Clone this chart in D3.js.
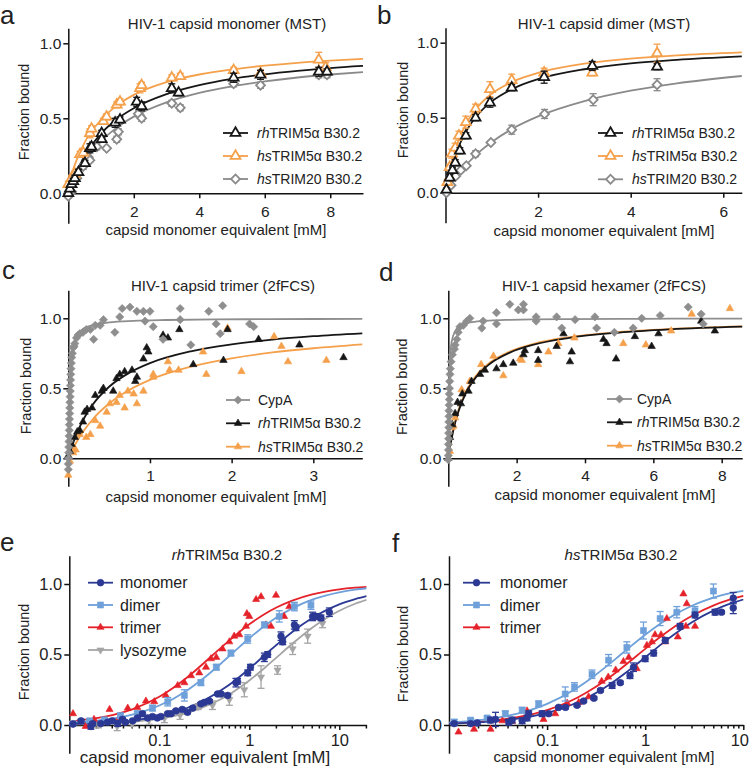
<!DOCTYPE html>
<html><head><meta charset="utf-8">
<script src="https://cdn.jsdelivr.net/npm/d3@7"></script>
<style>
body{margin:0;background:#fff}
svg{display:block}
</style>
</head><body>
<svg id="chart" width="750" height="770"></svg>
<script>
// ---------------- DATA ----------------
// Panel a: HIV-1 capsid monomer (MST)
const aRhX  = [0, 0.05, 0.1, 0.15, 0.2, 0.31, 0.51, 0.66, 0.71, 1.02, 1.02, 1.43, 1.58, 2.09, 2.24, 3.16, 3.37, 5.05, 5.87, 7.65, 7.9];
const aRhY  = [0.0, 0.03, 0.06, 0.08, 0.10, 0.14, 0.20, 0.30, 0.31, 0.40, 0.36, 0.47, 0.49, 0.61, 0.58, 0.70, 0.67, 0.77, 0.79, 0.81, 0.81];
const aRhE  = [0.01, 0.02, 0.02, 0.02, 0.02, 0.02, 0.02, 0.03, 0.02, 0.02, 0.02, 0.03, 0.02, 0.03, 0.03, 0.03, 0.02, 0.03, 0.03, 0.03, 0.02];
const aHsX  = [0, 0.1, 0.2, 0.36, 0.46, 0.66, 0.71, 1.07, 1.17, 1.48, 1.58, 2.19, 2.24, 3.16, 3.42, 5.05, 5.87, 7.65, 7.86];
const aHsY  = [0.06, 0.10, 0.13, 0.26, 0.27, 0.40, 0.43, 0.48, 0.51, 0.59, 0.61, 0.70, 0.72, 0.77, 0.78, 0.82, 0.80, 0.89, 0.84];
const aHsE  = [0.02, 0.02, 0.02, 0.02, 0.02, 0.03, 0.02, 0.02, 0.02, 0.02, 0.02, 0.03, 0.02, 0.02, 0.02, 0.02, 0.02, 0.05, 0.03];
const aT20X = [0, 0.1, 0.26, 0.46, 0.61, 0.66, 0.87, 1.17, 1.48, 1.53, 2.14, 2.24, 3.16, 3.42, 5.05, 5.87, 7.65, 7.9];
const aT20Y = [-0.02, 0.01, 0.10, 0.18, 0.24, 0.22, 0.31, 0.30, 0.36, 0.41, 0.53, 0.50, 0.60, 0.57, 0.73, 0.72, 0.79, 0.79];
const aT20E = [0.01, 0.01, 0.01, 0.02, 0.01, 0.01, 0.02, 0.01, 0.02, 0.02, 0.02, 0.02, 0.02, 0.02, 0.02, 0.02, 0.02, 0.02];
const aFitX    = [0, 0.25, 0.5, 1, 1.5, 2, 3, 4, 5, 6, 7, 8, 9];
const aRhFitY  = [0, 0.142, 0.249, 0.398, 0.497, 0.567, 0.661, 0.721, 0.763, 0.793, 0.816, 0.835, 0.849];
const aHsFitY  = [0.06, 0.22, 0.34, 0.49, 0.588, 0.656, 0.741, 0.792, 0.826, 0.851, 0.870, 0.884, 0.896];
const aT20FitY = [0, 0.118, 0.211, 0.346, 0.441, 0.511, 0.606, 0.669, 0.713, 0.746, 0.772, 0.792, 0.808];
const aXTicks = [2, 4, 6, 8];

// Panel b: HIV-1 capsid dimer (MST)
const bRhX  = [0.02, 0.09, 0.15, 0.21, 0.31, 0.44, 0.65, 0.96, 1.43, 2.13, 3.17, 4.57];
const bRhY  = [0.02, 0.10, 0.15, 0.20, 0.28, 0.38, 0.50, 0.60, 0.70, 0.77, 0.845, 0.84];
const bRhE  = [0.01, 0.02, 0.02, 0.02, 0.02, 0.02, 0.02, 0.03, 0.02, 0.04, 0.03, 0.02];
const bHsX  = [0.04, 0.09, 0.14, 0.21, 0.29, 0.44, 0.65, 0.96, 1.43, 2.13, 3.17, 4.57];
const bHsY  = [0.07, 0.17, 0.26, 0.30, 0.38, 0.47, 0.56, 0.69, 0.75, 0.80, 0.80, 0.93];
const bHsE  = [0.02, 0.02, 0.03, 0.03, 0.03, 0.04, 0.03, 0.05, 0.04, 0.03, 0.02, 0.06];
const bT20X = [0.02, 0.12, 0.22, 0.33, 0.45, 0.65, 0.98, 1.43, 2.14, 3.19, 4.57];
const bT20Y = [0.0, 0.05, 0.11, 0.15, 0.18, 0.26, 0.335, 0.42, 0.525, 0.62, 0.72];
const bT20E = [0.01, 0.01, 0.01, 0.01, 0.01, 0.02, 0.01, 0.03, 0.03, 0.04, 0.04];
const bFitX    = [0, 0.1, 0.25, 0.5, 0.75, 1, 1.5, 2, 3, 4, 5, 6.4];
const bRhFitY  = [0, 0.135, 0.280, 0.437, 0.538, 0.609, 0.700, 0.757, 0.823, 0.862, 0.886, 0.909];
const bHsFitY  = [0, 0.159, 0.322, 0.489, 0.591, 0.660, 0.747, 0.799, 0.860, 0.894, 0.916, 0.936];
const bT20FitY = [0, 0.048, 0.112, 0.203, 0.277, 0.338, 0.436, 0.509, 0.611, 0.680, 0.729, 0.778];
const bXTicks = [2, 4, 6];

// Panel c: HIV-1 capsid trimer (2fFCS)
const cCypX = [0, 0, 0.003, 0.005, 0.006, 0.008, 0.01, 0.012, 0.013, 0.015, 0.017, 0.018, 0.02, 0.022, 0.024, 0.026, 0.028, 0.03, 0.033, 0.037, 0.042, 0.05, 0.06, 0.07,
  0.08, 0.10, 0.12, 0.14, 0.18, 0.22, 0.27, 0.31, 0.33, 0.39, 0.43, 0.57, 0.63, 0.66, 0.755, 0.84, 0.92, 0.94, 1.0, 1.04, 1.16, 1.37, 1.37, 1.50, 1.72, 1.81, 1.86, 1.89, 2.22, 2.27];
const cCypY = [-0.08, -0.04, 0.0, 0.04, 0.08, 0.12, 0.16, 0.20, 0.24, 0.28, 0.32, 0.36, 0.40, 0.44, 0.48, 0.52, 0.56, 0.60, 0.64, 0.68, 0.72, 0.75, 0.79, 0.80,
  0.82, 0.86, 0.88, 0.89, 0.90, 0.92, 0.92, 0.85, 0.95, 0.95, 0.99, 0.90, 1.01, 1.07, 1.08, 1.05, 1.05, 0.98, 1.05, 0.94, 0.85, 0.99, 1.07, 0.81, 1.05, 0.96, 0.89, 1.09, 0.96, 0.94];
const cRhX = [0, 0.02, 0.04, 0.08, 0.11, 0.14, 0.18, 0.20, 0.23, 0.29, 0.33, 0.41, 0.43, 0.55, 0.59, 0.63, 0.69, 0.78, 0.82, 0.84, 0.92, 0.96, 0.98, 1.16, 1.22, 1.36, 1.53, 1.90, 1.95, 2.33, 2.83, 3.37];
const cRhY = [0.02, 0.05, 0.10, 0.15, 0.19, 0.20, 0.26, 0.33, 0.35, 0.36, 0.45, 0.48, 0.50, 0.48, 0.57, 0.60, 0.62, 0.63, 0.55, 0.58, 0.71, 0.79, 0.76, 0.88, 0.86, 0.92, 0.67, 0.70, 0.92, 0.85, 0.81, 0.72];
const cHsX = [0, 0.02, 0.06, 0.09, 0.14, 0.22, 0.27, 0.33, 0.39, 0.47, 0.51, 0.59, 0.63, 0.69, 0.73, 0.80, 0.84, 0.92, 1.04, 1.04, 1.22, 1.24, 1.35, 1.65, 1.69, 1.95, 2.12, 2.52, 2.61, 2.69, 3.16];
const cHsY = [-0.12, -0.02, 0.04, 0.06, 0.17, 0.15, 0.17, 0.27, 0.23, 0.33, 0.39, 0.40, 0.45, 0.36, 0.48, 0.46, 0.39, 0.48, 0.60, 0.58, 0.69, 0.63, 0.63, 0.76, 0.60, 0.93, 0.62, 0.87, 0.80, 0.69, 0.70];
const cCypFitX = [0, 0.005, 0.01, 0.02, 0.03, 0.05, 0.08, 0.12, 0.2, 0.3, 0.5, 0.8, 1.2, 1.8, 2.5, 3.6];
const cCypFitY = [0, 0.25, 0.40, 0.571, 0.667, 0.769, 0.842, 0.889, 0.930, 0.952, 0.971, 0.982, 0.988, 0.992, 0.994, 0.996];
const cFitX    = [0, 0.05, 0.1, 0.2, 0.3, 0.5, 0.75, 1, 1.5, 2, 2.5, 3, 3.6];
const cRhFitY  = [0, 0.093, 0.171, 0.293, 0.384, 0.511, 0.612, 0.680, 0.764, 0.814, 0.848, 0.872, 0.893];
const cHsFitY  = [0, 0.061, 0.115, 0.205, 0.279, 0.391, 0.489, 0.560, 0.654, 0.714, 0.756, 0.786, 0.814];
const cXTicks = [1, 2, 3];

// Panel d: HIV-1 capsid hexamer (2fFCS)
const dCypX = [0, 0, 0.005, 0.005, 0.01, 0.01, 0.015, 0.015, 0.02, 0.02, 0.025, 0.03, 0.03, 0.035, 0.04, 0.05, 0.06, 0.08, 0.12, 0.18, 0.2, 0.25, 0.29, 0.34, 0.44, 0.54, 0.63,
  0.98, 1.02, 1.41, 1.41, 1.80, 2.05, 2.20, 2.20, 2.57, 2.57, 3.17, 3.32, 3.71, 4.29, 4.34, 4.86, 5.41, 5.66, 6.2, 7.02, 7.4, 7.46];
const dCypY = [-0.01, 0.02, 0.06, 0.10, 0.14, 0.18, 0.22, 0.26, 0.30, 0.34, 0.38, 0.42, 0.46, 0.50, 0.55, 0.60, 0.64, 0.69, 0.74, 0.78, 0.81, 0.85, 0.90, 0.94, 0.95, 0.98, 1.0,
  0.93, 0.98, 1.04, 0.96, 1.10, 1.06, 1.10, 1.06, 1.01, 0.98, 1.01, 0.93, 0.99, 1.01, 0.93, 0.90, 0.93, 1.00, 1.02, 1.08, 1.03, 0.96];
const dRhX = [0, 0.05, 0.12, 0.2, 0.27, 0.37, 0.41, 0.59, 0.68, 0.93, 1.07, 1.41, 1.61, 1.90, 2.20, 2.24, 2.63, 2.63, 3.17, 3.37, 3.56, 3.61, 4.54, 4.63, 4.91, 5.46, 5.95, 6.15, 7.4, 7.8];
const dRhY = [0, 0.15, 0.24, 0.32, 0.40, 0.39, 0.46, 0.48, 0.55, 0.60, 0.63, 0.64, 0.67, 0.68, 0.74, 0.77, 0.77, 0.70, 0.80, 0.89, 0.69, 0.76, 0.85, 0.82, 0.71, 0.87, 0.80, 0.89, 0.98, 0.91];
const dHsX = [0.05, 0.1, 0.15, 0.2, 0.39, 0.63, 0.96, 1.32, 1.61, 2.10, 2.15, 2.63, 2.93, 3.22, 3.69, 5.12, 5.78, 6.52, 7.12, 8.24];
const dHsY = [0.05, 0.22, 0.23, 0.29, 0.49, 0.55, 0.67, 0.73, 0.59, 0.71, 0.70, 0.67, 0.76, 0.82, 0.86, 0.82, 0.81, 0.91, 1.03, 1.07];
const dCypFitX = [0, 0.02, 0.05, 0.1, 0.2, 0.3, 0.5, 0.8, 1.2, 1.8, 2.5, 3.5, 5, 6.5, 8.6];
const dCypFitY = [0, 0.5, 0.714, 0.833, 0.909, 0.938, 0.962, 0.976, 0.984, 0.989, 0.992, 0.994, 0.996, 0.997, 0.998];
const dFitX    = [0, 0.05, 0.1, 0.2, 0.3, 0.5, 0.8, 1.2, 1.8, 2.5, 3.5, 5, 6.5, 8.6];
const dRhFitY  = [0, 0.078, 0.145, 0.253, 0.337, 0.459, 0.576, 0.672, 0.755, 0.812, 0.859, 0.898, 0.921, 0.940];
const dHsFitY  = [0, 0.081, 0.150, 0.261, 0.347, 0.470, 0.587, 0.681, 0.763, 0.818, 0.864, 0.902, 0.924, 0.943];
const dXTicks = [2, 4, 6, 8];

// Panel e: rhTRIM5α B30.2 (log axis)
const eMonoX = [0.011, 0.0135, 0.0174, 0.0182, 0.0224, 0.0267, 0.030, 0.0345, 0.039, 0.042, 0.0506, 0.0574, 0.065, 0.074, 0.084, 0.095, 0.104, 0.124, 0.135, 0.153, 0.18, 0.206, 0.235, 0.29, 0.316, 0.36, 0.445, 0.485, 0.575, 0.71, 0.74, 0.96, 1.03, 1.47, 1.6, 2.25, 2.35, 3.17, 3.3, 5.05, 5.5, 6.26, 7.75];
const eMonoY = [0.007, 0.03, -0.01, 0.01, 0.01, 0.02, 0.03, 0.01, 0.04, 0.02, 0.03, 0.05, 0.08, 0.05, 0.06, 0.05, 0.06, 0.08, 0.08, 0.10, 0.11, 0.09, 0.12, 0.15, 0.16, 0.17, 0.22, 0.22, 0.21, 0.30, 0.31, 0.37, 0.41, 0.48, 0.50, 0.63, 0.59, 0.71, 0.69, 0.77, 0.77, 0.76, 0.80];
const eMonoE = [0.01, 0.01, 0.02, 0.01, 0.01, 0.01, 0.01, 0.02, 0.01, 0.01, 0.01, 0.01, 0.01, 0.01, 0.01, 0.01, 0.01, 0.01, 0.01, 0.01, 0.01, 0.01, 0.01, 0.01, 0.01, 0.01, 0.01, 0.01, 0.01, 0.03, 0.02, 0.02, 0.02, 0.03, 0.02, 0.03, 0.02, 0.03, 0.02, 0.03, 0.02, 0.02, 0.03];
const eDimX = [0.011, 0.0168, 0.0245, 0.037, 0.057, 0.084, 0.124, 0.19, 0.29, 0.43, 0.625, 0.96, 1.47, 2.15, 3.17, 4.84];
const eDimY = [0.01, 0.03, 0.035, 0.065, 0.08, 0.12, 0.165, 0.21, 0.30, 0.41, 0.51, 0.61, 0.71, 0.77, 0.84, 0.85];
const eDimE = [0.01, 0.01, 0.02, 0.02, 0.02, 0.02, 0.03, 0.04, 0.02, 0.02, 0.02, 0.03, 0.02, 0.04, 0.03, 0.03];
const eTriX = [0.011, 0.0152, 0.0188, 0.0245, 0.028, 0.036, 0.0446, 0.057, 0.071, 0.088, 0.118, 0.16, 0.19, 0.225, 0.278, 0.33, 0.375, 0.43, 0.505, 0.6, 0.68, 0.775, 0.92, 0.94, 1.0, 1.19, 1.35, 1.53, 1.74, 1.98, 2.44, 2.78];
const eTriY = [0.08, -0.01, 0.04, 0.035, 0.11, 0.05, 0.12, 0.125, 0.17, 0.165, 0.21, 0.28, 0.30, 0.35, 0.37, 0.41, 0.47, 0.48, 0.54, 0.59, 0.63, 0.64, 0.70, 0.79, 0.77, 0.89, 0.91, 0.71, 0.70, 0.92, 0.77, 0.84];
const eLysX = [0.011, 0.021, 0.034, 0.05, 0.077, 0.114, 0.17, 0.27, 0.39, 0.6, 0.88, 1.35, 2.06, 3.03, 4.45, 6.5];
const eLysY = [0.01, 0.0, -0.01, 0.01, 0.035, 0.047, 0.07, 0.13, 0.14, 0.18, 0.25, 0.34, 0.39, 0.54, 0.63, 0.72];
const eLysE = [0.01, 0.02, 0.03, 0.02, 0.03, 0.03, 0.03, 0.02, 0.03, 0.04, 0.05, 0.08, 0.03, 0.04, 0.05, 0.03];
const eFitX     = [0.01, 0.02, 0.03, 0.05, 0.1, 0.2, 0.3, 0.5, 0.7, 1, 1.5, 2, 3, 5, 7, 10, 15, 20];
const eMonoFitY = [0.007, 0.013, 0.020, 0.033, 0.063, 0.119, 0.168, 0.251, 0.318, 0.399, 0.498, 0.567, 0.660, 0.759, 0.811, 0.856, 0.893, 0.914];
const eDimFitY  = [0.016, 0.031, 0.046, 0.074, 0.138, 0.242, 0.324, 0.444, 0.528, 0.615, 0.706, 0.762, 0.827, 0.889, 0.918, 0.941, 0.960, 0.970];
const eTriFitY  = [0.024, 0.048, 0.070, 0.111, 0.200, 0.333, 0.429, 0.556, 0.636, 0.714, 0.789, 0.833, 0.882, 0.926, 0.946, 0.962, 0.974, 0.980];
const eLysFitY  = [0.005, 0.009, 0.014, 0.023, 0.045, 0.085, 0.123, 0.188, 0.245, 0.316, 0.408, 0.478, 0.576, 0.690, 0.754, 0.810, 0.860, 0.887];

// Panel f: hsTRIM5α B30.2 (log axis)
const fMonoX = [0.0113, 0.0166, 0.0194, 0.0265, 0.0298, 0.0407, 0.044, 0.0557, 0.0625, 0.065, 0.089, 0.104, 0.131, 0.154, 0.202, 0.236, 0.30, 0.35, 0.46, 0.557, 0.70, 0.76, 1.0, 1.22, 1.6, 2.27, 3.22, 5.15, 6.0, 7.9, 7.9];
const fMonoY = [0.01, 0.01, 0.015, 0.035, 0.04, 0.02, 0.035, 0.03, 0.05, 0.08, 0.08, 0.08, 0.125, 0.125, 0.14, 0.17, 0.19, 0.245, 0.28, 0.30, 0.35, 0.41, 0.47, 0.51, 0.60, 0.70, 0.78, 0.80, 0.80, 0.90, 0.83];
const fMonoE = [0.01, 0.01, 0.01, 0.02, 0.05, 0.02, 0.02, 0.02, 0.02, 0.02, 0.02, 0.01, 0.01, 0.01, 0.01, 0.01, 0.01, 0.01, 0.02, 0.01, 0.02, 0.03, 0.02, 0.02, 0.02, 0.02, 0.02, 0.02, 0.01, 0.04, 0.04];
const fDimX = [0.0113, 0.0166, 0.0245, 0.0375, 0.0557, 0.082, 0.153, 0.19, 0.287, 0.423, 0.65, 0.96, 1.42, 2.1, 3.22, 4.96];
const fDimY = [0.02, 0.035, 0.05, 0.08, 0.105, 0.15, 0.22, 0.27, 0.36, 0.46, 0.55, 0.67, 0.755, 0.80, 0.81, 0.95];
const fDimE = [0.02, 0.01, 0.01, 0.02, 0.02, 0.02, 0.05, 0.03, 0.03, 0.04, 0.04, 0.06, 0.05, 0.04, 0.03, 0.05];
const fTriX = [0.0125, 0.018, 0.0265, 0.035, 0.044, 0.0625, 0.092, 0.121, 0.16, 0.21, 0.265, 0.36, 0.42, 0.50, 0.60, 0.68, 0.82, 1.04, 1.17, 1.26, 1.45, 1.6, 1.66, 2.15, 2.45, 2.65, 2.6, 3.22];
const fTriY = [-0.05, -0.03, -0.03, 0.03, 0.026, 0.10, 0.04, 0.08, 0.155, 0.16, 0.20, 0.31, 0.34, 0.39, 0.45, 0.48, 0.40, 0.565, 0.59, 0.64, 0.64, 0.59, 0.755, 0.625, 0.93, 0.86, 0.70, 0.70];
const fFitX     = [0.01, 0.02, 0.03, 0.05, 0.1, 0.2, 0.3, 0.5, 0.7, 1, 1.5, 2, 3, 5, 7, 10];
const fMonoFitY = [0.009, 0.018, 0.027, 0.045, 0.086, 0.158, 0.219, 0.318, 0.394, 0.480, 0.579, 0.645, 0.729, 0.813, 0.855, 0.890];
const fDimFitY  = [0.017, 0.034, 0.050, 0.081, 0.150, 0.261, 0.346, 0.469, 0.554, 0.640, 0.729, 0.783, 0.846, 0.903, 0.931, 0.952];
const fTriFitY  = [0.012, 0.023, 0.034, 0.056, 0.106, 0.191, 0.262, 0.371, 0.452, 0.540, 0.636, 0.699, 0.775, 0.849, 0.885, 0.915];

const yTicks = [0, 0.5, 1.0];
const logMajorTicks = [0.1, 1, 10];
const logMinorTicks = [0.02, 0.03, 0.04, 0.05, 0.06, 0.07, 0.08, 0.09, 0.2, 0.3, 0.4, 0.5, 0.6, 0.7, 0.8, 0.9, 2, 3, 4, 5, 6, 7, 8, 9, 20];
const xAxisLabel = 'capsid monomer equivalent [mM]';
const yAxisLabel = 'Fraction bound';

// ---------------- STYLE ----------------
const FONT = '"Liberation Sans", Arial, Helvetica, sans-serif';
const TXT = '#222';
const C = { black: '#161616', orange: '#f5a04b', gray: '#8a8a8a', cyp: '#8e8e8e', navy: '#2b3994', lblue: '#6ea0da', red: '#e5222a', lys: '#a5a5a5' };

const svg = d3.select('#chart');

function symbolPath(type, size) {
  const map = { tri: d3.symbolTriangle, dtri: d3.symbolTriangle, dia: d3.symbolSquare, sq: d3.symbolSquare, circ: d3.symbolCircle };
  return d3.symbol(map[type], size)();
}
function symbolRot(type) { return type === 'dtri' ? 180 : (type === 'dia' ? 45 : 0); }

function addText(g, parts, attrs) {
  const t = g.append('text').attr('font-family', FONT).attr('fill', TXT);
  Object.entries(attrs).forEach(([k, v]) => t.attr(k, v));
  parts.forEach(p => { const s = t.append('tspan').text(p.t); if (p.i) s.attr('font-style', 'italic'); });
  return t;
}

function drawPanel(p) {
  const g = svg.append('g');
  const x = p.log ? d3.scaleLog().domain(p.xDomain).range(p.xRange) : d3.scaleLinear().domain(p.xDomain).range(p.xRange);
  const y = d3.scaleLinear().domain(p.yDomain).range(p.yRange);

  // axes
  const ax = g.append('g');
  const yAx = ax.append('g').attr('transform', `translate(${p.xRange[0]},0)`)
    .call(d3.axisLeft(y).tickValues(yTicks).tickFormat(d3.format('.1f')).tickSize(5).tickSizeOuter(0).tickPadding(2));
  const xAx = ax.append('g').attr('transform', `translate(0,${y(0)})`)
    .call(d3.axisBottom(x).tickValues(p.xTicks).tickFormat(p.log ? (d => d < 1 ? String(d) : d3.format('d')(d)) : d3.format('d')).tickSize(5).tickSizeOuter(0));
  [yAx, xAx].forEach(a => a.attr('font-family', FONT).attr('font-size', p.tickFs));
  xAx.selectAll('.tick text').attr('y', p.tickLabelY - y(0)).attr('dy', 0);
  // keep a label that would sit on the right page edge inside the picture
  xAx.selectAll('.tick text').filter(d => x(d) > 738).attr('dx', -4);
  if (p.log) {
    xAx.selectAll('.minor').data(logMinorTicks.filter(v => v > p.xDomain[0] && v <= p.xDomain[1]))
      .join('line').attr('class', 'minor').attr('x1', d => x(d)).attr('x2', d => x(d)).attr('y1', 0).attr('y2', 3.5);
  }
  ax.selectAll('path.domain, line').attr('stroke', '#111').attr('stroke-width', 1.5);
  ax.selectAll('text').attr('fill', TXT);

  const line = d3.line().x(d => x(d[0])).y(d => y(d[1])).curve(d3.curveMonotoneX);
  // fit curves
  p.series.forEach(s => {
    g.append('path').datum(d3.zip(s.fx, s.fy)).attr('d', line)
      .attr('fill', 'none').attr('stroke', s.color).attr('stroke-width', 1.8);
  });
  // points
  p.series.forEach(s => {
    const pts = d3.zip(s.x, s.y, s.e || s.x.map(() => 0));
    const eg = g.append('g').attr('stroke', s.color).attr('stroke-width', 1.3);
    pts.filter(d => d[2] > 0).forEach(d => {
      const cx = x(d[0]), y1 = y(d[1] + d[2]), y2 = y(d[1] - d[2]);
      eg.append('line').attr('x1', cx).attr('x2', cx).attr('y1', y1).attr('y2', y2);
      eg.append('line').attr('x1', cx - 3.5).attr('x2', cx + 3.5).attr('y1', y1).attr('y2', y1);
      eg.append('line').attr('x1', cx - 3.5).attr('x2', cx + 3.5).attr('y1', y2).attr('y2', y2);
    });
    g.append('g').selectAll('path').data(pts).join('path')
      .attr('d', symbolPath(s.sym, s.size))
      .attr('transform', d => `translate(${x(d[0])},${y(d[1])}) rotate(${symbolRot(s.sym)})`)
      .attr('fill', s.open ? '#fff' : s.color).attr('stroke', s.color)
      .attr('stroke-width', s.open ? 1.8 : 0.6);
  });

  // legend
  const L = p.legend;
  p.series.forEach((s, i) => {
    const ly = L.ys[i];
    g.append('line').attr('x1', L.x1).attr('x2', L.x2).attr('y1', ly).attr('y2', ly)
      .attr('stroke', s.color).attr('stroke-width', 1.8);
    g.append('path').attr('d', symbolPath(s.sym, s.size))
      .attr('transform', `translate(${(L.x1 + L.x2) / 2},${ly}) rotate(${symbolRot(s.sym)})`)
      .attr('fill', s.open ? '#fff' : s.color).attr('stroke', s.color).attr('stroke-width', s.open ? 1.8 : 0.6);
    addText(g, s.label, { x: L.tx, y: ly + L.fs * 0.36, 'font-size': L.fs });
  });

  // texts
  addText(g, [{ t: p.letter }], { x: p.letterPos[0], y: p.letterPos[1], 'font-size': 26 });
  addText(g, p.title, { x: p.titlePos[0], y: p.titlePos[1], 'font-size': 15, 'text-anchor': 'middle' });
  addText(g, [{ t: xAxisLabel }], { x: p.xLabelPos[0], y: p.xLabelPos[1], 'font-size': p.xLabelFs, 'text-anchor': 'middle' });
  addText(g, [{ t: yAxisLabel }], { transform: `translate(${p.yLabelPos[0]},${p.yLabelPos[1]}) rotate(-90)`, 'font-size': 14.5, 'text-anchor': 'middle' });
}

const lblRh = [{ t: 'rh', i: true }, { t: 'TRIM5α B30.2' }];
const lblHs = [{ t: 'hs', i: true }, { t: 'TRIM5α B30.2' }];
const lblT20 = [{ t: 'hs', i: true }, { t: 'TRIM20 B30.2' }];

const panels = [
  { letter: 'a', letterPos: [0, 24], title: [{ t: 'HIV-1 capsid monomer (MST)' }], titlePos: [227, 29],
    xDomain: [0, 9], xRange: [68.3, 363], yDomain: [-0.2, 1.1], yRange: [223.3, 28.3], xTicks: aXTicks,
    tickFs: 15.5, tickLabelY: 217, xLabelPos: [216, 235], xLabelFs: 15, yLabelPos: [29, 112],
    legend: { x1: 223, x2: 248, tx: 257, ys: [133, 156, 179], fs: 14 },
    series: [
      { x: aT20X, y: aT20Y, e: aT20E, fx: aFitX, fy: aT20FitY, color: C.gray, sym: 'dia', size: 40, open: true, label: lblT20 },
      { x: aHsX, y: aHsY, e: aHsE, fx: aFitX, fy: aHsFitY, color: C.orange, sym: 'tri', size: 42, open: true, label: lblHs },
      { x: aRhX, y: aRhY, e: aRhE, fx: aFitX, fy: aRhFitY, color: C.black, sym: 'tri', size: 42, open: true, label: lblRh }
    ], legendOrder: [2, 1, 0] },
  { letter: 'b', letterPos: [377, 24], title: [{ t: 'HIV-1 capsid dimer (MST)' }], titlePos: [604, 29],
    xDomain: [0, 6.4], xRange: [445.5, 741.8], yDomain: [-0.2, 1.1], yRange: [222.7, 27.7], xTicks: bXTicks,
    tickFs: 15.5, tickLabelY: 217, xLabelPos: [604, 236], xLabelFs: 15, yLabelPos: [408, 110],
    legend: { x1: 598, x2: 623, tx: 632, ys: [133, 156, 179.3], fs: 14 },
    series: [
      { x: bT20X, y: bT20Y, e: bT20E, fx: bFitX, fy: bT20FitY, color: C.gray, sym: 'dia', size: 40, open: true, label: lblT20 },
      { x: bHsX, y: bHsY, e: bHsE, fx: bFitX, fy: bHsFitY, color: C.orange, sym: 'tri', size: 42, open: true, label: lblHs },
      { x: bRhX, y: bRhY, e: bRhE, fx: bFitX, fy: bRhFitY, color: C.black, sym: 'tri', size: 42, open: true, label: lblRh }
    ], legendOrder: [2, 1, 0] },
  { letter: 'c', letterPos: [2, 279], title: [{ t: 'HIV-1 capsid trimer (2fFCS)' }], titlePos: [223, 291],
    xDomain: [0, 3.6], xRange: [68.3, 362.3], yDomain: [-0.2, 1.2], yRange: [486.3, 290.3], xTicks: cXTicks,
    tickFs: 15.5, tickLabelY: 481, xLabelPos: [216, 502], xLabelFs: 15, yLabelPos: [30.7, 386],
    legend: { x1: 226, x2: 250, tx: 258, ys: [400, 423.3, 446.7], fs: 14 },
    series: [
      { x: cHsX, y: cHsY, fx: cFitX, fy: cHsFitY, color: C.orange, sym: 'tri', size: 24, label: lblHs },
      { x: cRhX, y: cRhY, fx: cFitX, fy: cRhFitY, color: C.black, sym: 'tri', size: 24, label: lblRh },
      { x: cCypX, y: cCypY, fx: cCypFitX, fy: cCypFitY, color: C.cyp, sym: 'dia', size: 34, label: [{ t: 'CypA' }] }
    ], legendOrder: [2, 1, 0] },
  { letter: 'd', letterPos: [379, 281], title: [{ t: 'HIV-1 capsid hexamer (2fFCS)' }], titlePos: [604, 291],
    xDomain: [0, 8.6], xRange: [448.3, 742.2], yDomain: [-0.2, 1.2], yRange: [486.3, 290.3], xTicks: dXTicks,
    tickFs: 15.5, tickLabelY: 481, xLabelPos: [605, 500], xLabelFs: 15, yLabelPos: [407.4, 386.7],
    legend: { x1: 607, x2: 632, tx: 637, ys: [399, 422.3, 445.7], fs: 14 },
    series: [
      { x: dHsX, y: dHsY, fx: dFitX, fy: dHsFitY, color: C.orange, sym: 'tri', size: 24, label: lblHs },
      { x: dRhX, y: dRhY, fx: dFitX, fy: dRhFitY, color: C.black, sym: 'tri', size: 24, label: lblRh },
      { x: dCypX, y: dCypY, fx: dCypFitX, fy: dCypFitY, color: C.cyp, sym: 'dia', size: 34, label: [{ t: 'CypA' }] }
    ], legendOrder: [2, 1, 0] },
  { letter: 'e', letterPos: [0, 551], title: [{ t: 'rh', i: true }, { t: 'TRIM5α B30.2' }], titlePos: [227, 560],
    log: true, xDomain: [0.01, 20], xRange: [69.3, 366.4], yDomain: [-0.2, 1.2], yRange: [753.2, 555.8], xTicks: logMajorTicks,
    tickFs: 16.5, tickLabelY: 746, xLabelPos: [205, 763], xLabelFs: 17, yLabelPos: [29, 652],
    legend: { x1: 88, x2: 113, tx: 120, ys: [582.7, 605, 627.3, 650], fs: 16 },
    series: [
      { x: eLysX, y: eLysY, e: eLysE, fx: eFitX, fy: eLysFitY, color: C.lys, sym: 'dtri', size: 22, label: [{ t: 'lysozyme' }] },
      { x: eTriX, y: eTriY, fx: eFitX, fy: eTriFitY, color: C.red, sym: 'tri', size: 22, label: [{ t: 'trimer' }] },
      { x: eDimX, y: eDimY, e: eDimE, fx: eFitX, fy: eDimFitY, color: C.lblue, sym: 'sq', size: 36, label: [{ t: 'dimer' }] },
      { x: eMonoX, y: eMonoY, e: eMonoE, fx: eFitX, fy: eMonoFitY, color: C.navy, sym: 'circ', size: 36, label: [{ t: 'monomer' }] }
    ], legendOrder: [3, 2, 1, 0] },
  { letter: 'f', letterPos: [392, 552], title: [{ t: 'hs', i: true }, { t: 'TRIM5α B30.2' }], titlePos: [621, 560],
    log: true, xDomain: [0.01, 10], xRange: [449, 743.3], yDomain: [-0.2, 1.2], yRange: [753.2, 555.8], xTicks: logMajorTicks,
    tickFs: 16.5, tickLabelY: 746, xLabelPos: [604, 762], xLabelFs: 15, yLabelPos: [408.4, 654],
    legend: { x1: 463, x2: 490, tx: 500, ys: [582.7, 605, 627.3], fs: 16 },
    series: [
      { x: fTriX, y: fTriY, fx: fFitX, fy: fTriFitY, color: C.red, sym: 'tri', size: 22, label: [{ t: 'trimer' }] },
      { x: fDimX, y: fDimY, e: fDimE, fx: fFitX, fy: fDimFitY, color: C.lblue, sym: 'sq', size: 36, label: [{ t: 'dimer' }] },
      { x: fMonoX, y: fMonoY, e: fMonoE, fx: fFitX, fy: fMonoFitY, color: C.navy, sym: 'circ', size: 36, label: [{ t: 'monomer' }] }
    ], legendOrder: [2, 1, 0] }
];

// legend rows follow legendOrder (top to bottom)
panels.forEach(p => {
  const ys = p.legend.ys.slice();
  const reordered = new Array(p.series.length);
  p.legendOrder.forEach((si, row) => { reordered[si] = ys[row]; });
  p.legend = Object.assign({}, p.legend, { ys: reordered });
  drawPanel(p);
});
</script>
</body></html>
